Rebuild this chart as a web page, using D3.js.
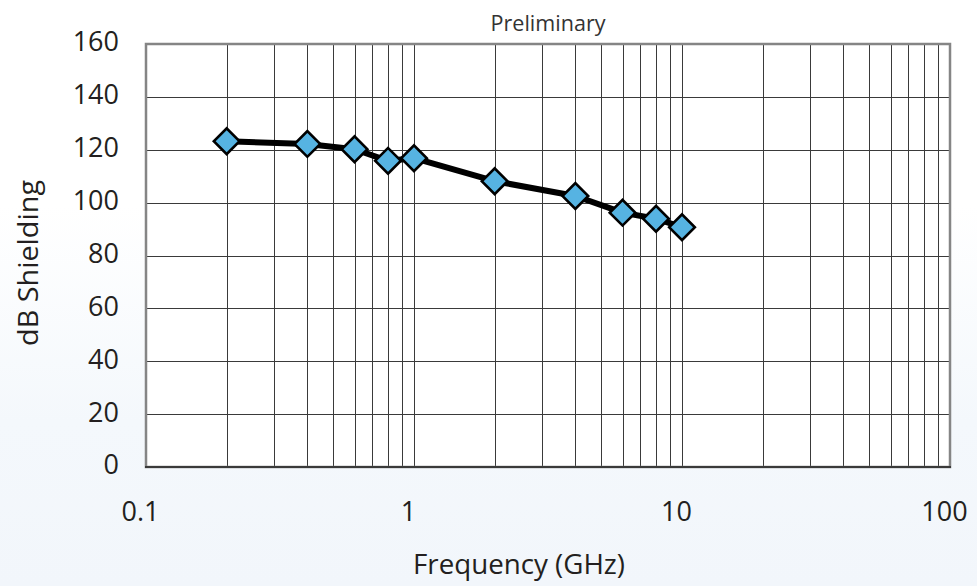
<!DOCTYPE html>
<html>
<head>
<meta charset="utf-8">
<script src="https://cdn.jsdelivr.net/npm/d3@7"></script>
<style>
  html, body { margin: 0; padding: 0; }
  svg { display: block; }
  text { font-family: "Open Sans", "Noto Sans", sans-serif; fill: #231f20; }
</style>
</head>
<body>
<svg id="chart" width="977" height="586"></svg>
<script>
// frequency in GHz, shielding in dB
var freqs = [0.2, 0.4, 0.6, 0.8, 1, 2, 4, 6, 8, 10];
var shielding = [123.2, 122.2, 120.2, 115.8, 116.8, 108.1, 102.5, 96.2, 93.9, 90.7];
var xTicks = [0.1, 1, 10, 100];
var yTicks = [0, 20, 40, 60, 80, 100, 120, 140, 160];

var svg = d3.select('#chart');
var W = 977, H = 586;
var m = { left: 146, right: 950, top: 44, bottom: 467 };

// background fades to a pale blue towards the bottom
var defs = svg.append('defs');
var grad = defs.append('linearGradient')
  .attr('id', 'bg').attr('x1', 0).attr('y1', 0).attr('x2', 0).attr('y2', 1);
grad.append('stop').attr('offset', '0.35').attr('stop-color', '#ffffff');
grad.append('stop').attr('offset', '0.72').attr('stop-color', '#f4f8fc');
grad.append('stop').attr('offset', '1').attr('stop-color', '#f2f6fb');
svg.append('rect').attr('width', W).attr('height', H).attr('fill', 'url(#bg)');

var x = d3.scaleLog().domain([0.1, 100]).range([m.left, m.right]);
var y = d3.scaleLinear().domain([0, 160]).range([m.bottom, m.top]);

svg.append('rect')
  .attr('x', m.left).attr('y', m.top)
  .attr('width', m.right - m.left).attr('height', m.bottom - m.top)
  .attr('fill', '#ffffff');

// minor log grid (2..9 of each decade)
var minor = x.ticks().filter(function (d) {
  return x.domain()[0] < d && d < x.domain()[1];
});
var grid = svg.append('g').attr('class', 'grid');
grid.selectAll('line.v')
  .data(minor)
  .enter().append('line')
  .attr('class', 'v')
  .attr('x1', function (d) { return Math.round(x(d)) + 0.5; })
  .attr('x2', function (d) { return Math.round(x(d)) + 0.5; })
  .attr('y1', m.top).attr('y2', m.bottom)
  .attr('stroke', '#3a3a3a').attr('stroke-width', 1);

grid.selectAll('line.h')
  .data(yTicks.slice(1, -1))
  .enter().append('line')
  .attr('class', 'h')
  .attr('x1', m.left).attr('x2', m.right)
  .attr('y1', function (d) { return Math.round(y(d)) + 0.5; })
  .attr('y2', function (d) { return Math.round(y(d)) + 0.5; })
  .attr('stroke', '#3a3a3a').attr('stroke-width', 1);

// frame
svg.append('rect')
  .attr('x', m.left).attr('y', m.top)
  .attr('width', m.right - m.left).attr('height', m.bottom - m.top)
  .attr('fill', 'none').attr('stroke', '#858585').attr('stroke-width', 2.5);
svg.append('line')
  .attr('x1', m.left - 1).attr('x2', m.right + 1)
  .attr('y1', m.bottom).attr('y2', m.bottom)
  .attr('stroke', '#3a3a3a').attr('stroke-width', 2);

// axes (labels only, lines drawn above)
var xAxis = d3.axisBottom(x).tickValues(xTicks).tickSize(0).tickPadding(0)
  .tickFormat(d3.format('~g'));
var gx = svg.append('g').attr('transform', 'translate(-6,' + 521 + ')').call(xAxis);
gx.select('.domain').remove();
gx.selectAll('text').attr('font-size', 27).attr('dy', 0).attr('fill', '#231f20');

var yAxis = d3.axisLeft(y).tickValues(yTicks).tickSize(0).tickPadding(0);
var gy = svg.append('g').attr('transform', 'translate(119,0)').call(yAxis);
gy.select('.domain').remove();
gy.selectAll('text').attr('font-size', 27).attr('dy', '0.35em').attr('fill', '#231f20');
gy.selectAll('.tick').attr('transform', function (d) {
  return 'translate(0,' + (y(d) - 2) + ')';
});

svg.selectAll('.tick text')
  .style('font-family', '"Open Sans", "Noto Sans", sans-serif')
  .style('font-weight', 500);

// titles
svg.append('text')
  .attr('x', 548).attr('y', 31)
  .attr('text-anchor', 'middle')
  .attr('font-size', 21)
  .attr('textLength', 115).attr('lengthAdjust', 'spacingAndGlyphs')
  .style('fill', '#333')
  .text('Preliminary');

svg.append('text')
  .attr('x', 519).attr('y', 574)
  .attr('text-anchor', 'middle')
  .attr('font-size', 27)
  .attr('textLength', 212).attr('lengthAdjust', 'spacingAndGlyphs')
  .style('font-weight', 500)
  .text('Frequency (GHz)');

svg.append('text')
  .attr('transform', 'translate(38,263) rotate(-90)')
  .attr('text-anchor', 'middle')
  .attr('font-size', 27)
  .attr('textLength', 166).attr('lengthAdjust', 'spacingAndGlyphs')
  .style('font-weight', 500)
  .text('dB Shielding');

// series
var pts = freqs.map(function (f, i) { return [f, shielding[i]]; });
var line = d3.line()
  .x(function (d) { return x(d[0]); })
  .y(function (d) { return y(d[1]); });

svg.append('path')
  .datum(pts)
  .attr('d', line)
  .attr('fill', 'none')
  .attr('stroke', '#000')
  .attr('stroke-width', 6)
  .attr('stroke-linejoin', 'round');

var diamond = d3.symbol().type(d3.symbolSquare).size(330);
svg.selectAll('path.pt')
  .data(pts)
  .enter().append('path')
  .attr('class', 'pt')
  .attr('d', diamond)
  .attr('transform', function (d) {
    return 'translate(' + x(d[0]) + ',' + y(d[1]) + ') rotate(45)';
  })
  .attr('fill', '#56b3e2')
  .attr('stroke', '#000')
  .attr('stroke-width', 2.6)
  .attr('stroke-linejoin', 'miter');
</script>
</body>
</html>
